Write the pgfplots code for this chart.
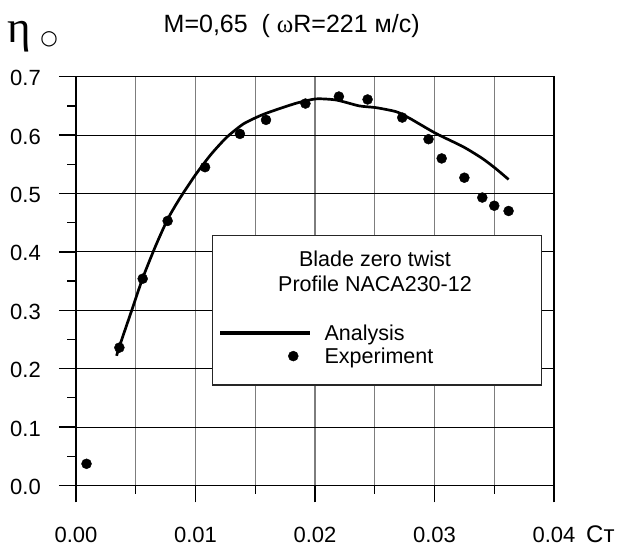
\documentclass[border=0pt]{standalone}
\usepackage{pgfplots}
\pgfplotsset{compat=1.18}
\usepackage{fontspec}
\setmainfont{Liberation Sans}
\newfontfamily\serf{Liberation Serif}
\newfontfamily\dejavu{DejaVu Sans}
\definecolor{gridgray}{RGB}{125,125,125}
\begin{document}
\begin{tikzpicture}
\useasboundingbox (0,0) rectangle (622bp,550bp);
\begin{axis}[
  scale only axis,
  width=478bp, height=408.7bp,
  at={(76bp,64.6bp)}, anchor=south west,
  xmin=0, xmax=0.04, ymin=0, ymax=0.7,
  xtick={0,0.01,0.02,0.03,0.04},
  ytick={0,0.1,0.2,0.3,0.4,0.5,0.6,0.7},
  minor x tick num=1, minor y tick num=1,
  scaled x ticks=false, scaled y ticks=false,
  xmajorgrids=true, xminorgrids=true, ymajorgrids=true,
  major x grid style={gridgray, line width=1.1bp},
  minor x grid style={gridgray, line width=1.1bp},
  major y grid style={black, line width=0.9bp},
  axis line style={black, line width=1.3bp},
  tick align=outside,
  xtick pos=bottom, ytick pos=left,
  major tick length=17bp, minor tick length=8.5bp,
  every tick/.style={black, line width=1.3bp},
  tick label style={font=\fontsize{22bp}{26bp}\selectfont, inner sep=0pt},
  /pgf/number format/assume math mode=true,
  xticklabel style={anchor=base, yshift=-39.6bp, /pgf/number format/.cd, fixed, fixed zerofill, precision=2},
  yticklabel style={anchor=east, xshift=-18bp, yshift=-1.5bp, /pgf/number format/.cd, fixed, fixed zerofill, precision=1},
  legend cell align=left,
  legend style={draw=none, fill=none, inner sep=0pt, outer sep=0pt,
    at={(axis cs:0.011937,0.2756)}, anchor=north west,
    font=\fontsize{21.5bp}{25bp}\selectfont,
    row sep=6bp, column sep=12.7bp, nodes={inner sep=0pt}},
]
\addplot[black, line width=2.7bp, smooth, tension=0.4,
  legend image code/.code={\path[draw=none] (0bp,0bp) -- (90bp,0bp); \draw[black, line width=3.3bp] (0bp,0bp) -- (90bp,0bp);}]
  coordinates {
  (0.0034,0.222) (0.0036,0.236) (0.0046,0.296) (0.0056,0.356) (0.0067,0.412)
  (0.0077,0.457) (0.0087,0.492) (0.0100,0.532) (0.0113,0.567) (0.0126,0.596)
  (0.0140,0.619) (0.0155,0.634) (0.0167,0.643) (0.0185,0.655) (0.0201,0.662)
  (0.0218,0.660) (0.0237,0.650) (0.0251,0.647) (0.0268,0.640) (0.0279,0.629)
  (0.0301,0.603) (0.0324,0.580) (0.0340,0.560) (0.0351,0.543) (0.0362,0.524)
  };
\addlegendentry{Analysis}
\addplot[only marks, mark=*, mark size=5bp, black,
  legend image code/.code={\path[draw=none, fill=none] (0bp,0bp) -- (90bp,0bp); \fill[black] (73bp,0bp) circle[radius=5bp];}]
  coordinates {
  (0.00088,0.037) (0.00363,0.236) (0.00558,0.354) (0.00767,0.453) (0.0108,0.545)
  (0.01372,0.602) (0.0159,0.626) (0.0192,0.654) (0.0220,0.666) (0.0244,0.661)
  (0.0273,0.630) (0.0295,0.593) (0.0306,0.560) (0.0325,0.527) (0.0340,0.493)
  (0.0350,0.479) (0.0362,0.470)
  };
\addlegendentry{Experiment}
\draw[fill=white, draw=black!85, line width=1.2bp] (axis cs:0.011406,0.42825) rectangle (axis cs:0.038937,0.17192);
\node[anchor=base, font=\fontsize{21.5bp}{25bp}\selectfont, inner sep=0pt] at (axis cs:0.02502,0.37449) {Blade zero twist};
\node[anchor=base, font=\fontsize{21.5bp}{25bp}\selectfont, inner sep=0pt] at (axis cs:0.02502,0.33168) {Profile NACA230-12};
\end{axis}
\node[anchor=base west, inner sep=0pt, font=\fontsize{25bp}{30bp}\selectfont] at (163.5bp,517bp) {M=0,65\ \ ( {\serf ω}R=221 м/с)};
\node[anchor=base west, inner sep=0pt, font=\fontsize{45bp}{50bp}\selectfont\serf] at (7bp,507bp) {η};
\node[anchor=center, inner sep=0pt, font=\fontsize{20bp}{22bp}\selectfont\dejavu] at (49bp,511bp) {○};
\node[anchor=base west, inner sep=0pt, font=\fontsize{24bp}{28bp}\selectfont] at (586bp,7.7bp) {Cт};
\end{tikzpicture}
\end{document}
